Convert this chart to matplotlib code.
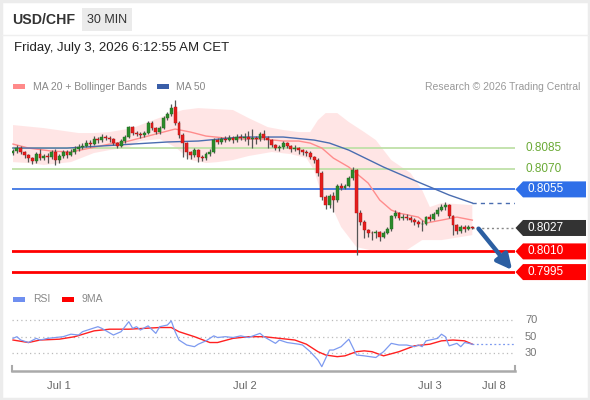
import matplotlib
matplotlib.use("Agg")
import matplotlib.pyplot as plt
from matplotlib.patches import Polygon, Rectangle
import numpy as np

plt.rcParams['font.family'] = ['Liberation Sans', 'DejaVu Sans']

# ---------------- data ----------------
opens = [.80814, .80828, .80850, .80821, .80799, .80777, .80756, .80806, .80777, .80792,
         .80785, .80821, .80763, .80792, .80821, .80799, .80821, .80843, .80857, .80865,
         .80886, .80879, .80915, .80908, .80930, .80923, .80915, .80886, .80865, .80901,
         .80930, .81002, .80959, .80952, .80944, .80959, .81032, .80995, .80966, .80995,
         .81068, .81097, .81148, .81032, .80944, .80886, .80821, .80799, .80835, .80785,
         .80777, .80806, .80821, .80908, .80894, .80915, .80912, .80923, .80908, .80930,
         .80923, .80930, .80915, .80923, .80915, .80952, .80923, .80908, .80872, .80850,
         .80857, .80886, .80865, .80843, .80850, .80835, .80821, .80814, .80785, .80763,
         .80668, .80494, .80436, .80502, .80473, .80574, .80560, .80574, .80632, .80690,
         .80378, .80313, .80255, .80233, .80230, .80240, .80204, .80233, .80262, .80356,
         .80378, .80342, .80349, .80346, .80327, .80313, .80298, .80300, .80349, .80335,
         .80371, .80400, .80422, .80436, .80356, .80291, .80247, .80276, .80262, .80276]
closes = [.80828, .80850, .80821, .80799, .80777, .80756, .80806, .80777, .80792, .80785,
          .80821, .80763, .80792, .80821, .80799, .80821, .80843, .80857, .80865, .80886,
          .80879, .80915, .80908, .80930, .80923, .80915, .80886, .80865, .80901, .80930,
          .81002, .80959, .80952, .80944, .80959, .81032, .80995, .80966, .80995, .81068,
          .81097, .81140, .81032, .80944, .80886, .80821, .80799, .80835, .80785, .80777,
          .80806, .80821, .80908, .80894, .80915, .80912, .80923, .80908, .80930, .80923,
          .80930, .80915, .80923, .80915, .80952, .80923, .80908, .80872, .80850, .80857,
          .80886, .80865, .80843, .80850, .80835, .80821, .80814, .80785, .80763, .80668,
          .80494, .80436, .80502, .80473, .80574, .80560, .80574, .80632, .80690, .80378,
          .80313, .80255, .80233, .80230, .80240, .80204, .80233, .80262, .80356, .80378,
          .80342, .80349, .80346, .80327, .80313, .80298, .80300, .80349, .80335, .80371,
          .80400, .80422, .80436, .80356, .80291, .80247, .80276, .80262, .80276, .80270]
highs = [.80845, .80870, .80862, .80830, .80805, .80785, .80820, .80840, .80810, .80812,
         .80835, .80840, .80805, .80835, .80838, .80840, .80862, .80880, .80885, .80910,
         .80905, .80935, .80930, .80950, .80945, .80940, .80925, .80895, .80915, .80945,
         .81010, .81012, .80975, .80965, .80975, .81045, .81045, .81005, .81010, .81080,
         .81115, .81170, .81199, .81045, .80960, .80895, .80830, .80850, .80845, .80800,
         .80820, .80840, .80920, .80925, .80930, .80935, .80945, .80935, .80950, .80950,
         .80960, .80975, .80990, .80940, .80970, .80980, .80935, .80915, .80880, .80875,
         .80900, .80895, .80875, .80870, .80860, .80845, .80835, .80825, .80795, .80775,
         .80680, .80510, .80520, .80530, .80590, .80600, .80590, .80645, .80710, .80700,
         .80400, .80330, .80265, .80250, .80255, .80250, .80245, .80275, .80365, .80400,
         .80385, .80370, .80370, .80360, .80340, .80330, .80325, .80360, .80370, .80385,
         .80420, .80445, .80460, .80445, .80365, .80300, .80290, .80290, .80290, .80285]
lows = [.80800, .80815, .80805, .80780, .80750, .80735, .80745, .80765, .80760, .80740,
        .80770, .80725, .80745, .80780, .80780, .80790, .80810, .80830, .80840, .80855,
        .80860, .80870, .80890, .80895, .80905, .80895, .80870, .80850, .80855, .80890,
        .80920, .80945, .80935, .80925, .80930, .80950, .80980, .80950, .80955, .80985,
        .81050, .81085, .81020, .80920, .80785, .80770, .80770, .80785, .80750, .80755,
        .80765, .80795, .80815, .80880, .80880, .80895, .80900, .80890, .80895, .80905,
        .80900, .80870, .80850, .80880, .80900, .80910, .80850, .80855, .80835, .80830,
        .80845, .80850, .80820, .80830, .80810, .80800, .80790, .80770, .80740, .80650,
        .80470, .80410, .80415, .80385, .80460, .80545, .80550, .80565, .80620, .80073,
        .80290, .80200, .80205, .80185, .80200, .80178, .80195, .80225, .80250, .80345,
        .80325, .80330, .80330, .80310, .80295, .80280, .80250, .80290, .80320, .80325,
        .80360, .80390, .80400, .80340, .80220, .80225, .80235, .80240, .80255, .80260]

ma20_idx = [0, 4, 10, 15, 20, 25, 29, 34, 38, 42, 46, 50, 55, 60, 65, 70, 74, 77, 80, 83,
            87, 92, 95, 98, 100, 105, 107, 111, 115, 119]
ma20_val = [.80879, .80850, .80828, .80821, .80850, .80879, .80894, .80930, .80959, .80988,
            .80966, .80937, .80923, .80915, .80915, .80901, .80901, .80886, .80850, .80777,
            .80712, .80596, .80473, .80400, .80378, .80349, .80306, .80327, .80349, .80327]

ma50_idx = [0, 14, 23, 31, 40, 48, 59, 70, 78, 82, 87, 96, 105, 113, 119]
ma50_val = [.80850, .80850, .80865, .80879, .80894, .80901, .80930, .80930, .80908, .80886,
            .80835, .80712, .80603, .80509, .80451]

bb_up_idx = [0, 8, 17, 21, 25, 31, 35, 40, 44, 48, 57, 61, 66, 70, 74, 77, 79, 81, 84, 87,
             91, 94, 98, 103, 106, 108, 111, 119]
bb_up_val = [.81017, .80995, .80959, .80959, .80966, .80995, .81039, .81090, .81126, .81140,
             .81126, .81068, .81002, .80981, .80966, .80966, .81053, .81104, .81104, .81039,
             .80966, .80908, .80763, .80668, .80545, .80422, .80451, .80436]
bb_lo_idx = [0, 4, 8, 15, 21, 25, 30, 33, 38, 42, 46, 50, 53, 57, 61, 67, 72, 76, 78, 80,
             83, 85, 89, 96, 102, 106, 111, 119]
bb_lo_val = [.80748, .80741, .80727, .80748, .80814, .80835, .80857, .80901, .80915, .80857,
             .80763, .80741, .80748, .80763, .80792, .80821, .80806, .80777, .80690, .80509,
             .80400, .80277, .80131, .80088, .80109, .80182, .80182, .80218]

rsi_idx = [0, 1, 2, 4, 6, 7, 9, 11, 13, 15, 17, 18, 20, 22, 23, 26, 28, 30, 31, 32, 33, 35,
           37, 38, 40, 41, 42, 43, 45, 47, 48, 50, 52, 53, 55, 57, 59, 61, 64, 65, 68, 69, 71,
           74, 75, 77, 79, 80, 82, 83, 85, 87, 89, 91, 94, 96, 98, 100, 102, 104, 105, 106,
           107, 109, 110, 111, 112, 113, 115, 116, 117, 119]
rsi_val = [48, 50, 46, 43, 48, 46, 48, 49, 50, 53, 52, 56, 59, 62, 60, 52, 56, 68, 60, 62, 58,
           63, 54, 62, 64, 69, 56, 46, 40, 38, 41, 45, 51, 49, 50, 49, 51, 49, 54, 50, 42, 46,
           43, 41, 40, 32, 22, 14, 34, 34, 38, 47, 28, 27, 25, 32, 42, 40, 40, 38, 40, 38, 45,
           47, 48, 53, 50, 39, 42, 38, 43, 41]
ma9_idx = [0, 4, 7, 12, 16, 21, 25, 30, 34, 38, 41, 43, 47, 51, 53, 57, 61, 65, 69, 73, 76,
           79, 81, 84, 86, 89, 91, 93, 96, 100, 104, 108, 111, 114, 117, 119]
ma9_val = [46, 43, 46, 47, 50, 57, 59, 59, 60, 61, 61, 56, 50, 43, 43, 48, 50, 50, 48, 46, 41,
           32, 28, 26, 27, 32, 33, 32, 27, 32, 39, 41, 45, 46, 45, 41]

levels_green = [0.8085, 0.8070]
level_blue = 0.8055
level_last = 0.8027
levels_red = [0.8010, 0.7995]
rsi_grid = [30, 50, 70]
tick_pos = [12, 60, 108, 124.5]
tick_lab = ['Jul 1', 'Jul 2', 'Jul 3', 'Jul 8']

# ---------------- figure ----------------
W, H = 590, 400
fig = plt.figure(figsize=(W / 100, H / 100), dpi=100)
fig.patch.set_facecolor('white')

def axpos(l, t, r, b):
    return [l / W, 1 - b / H, (r - l) / W, (b - t) / H]

ax = fig.add_axes(axpos(12, 95, 515, 282))
ax.set_facecolor('none')
ax.set_xlim(-0.26, 130.05)
ax.set_ylim(0.79878, 0.81235)
ax.axis('off')

n = len(closes)
x = np.arange(n)
o = np.array(opens); c = np.array(closes)
hi = np.array(highs); lo = np.array(lows)

ax.fill(np.concatenate([bb_up_idx, bb_lo_idx[::-1]]),
        np.concatenate([bb_up_val, bb_lo_val[::-1]]),
        color='#ffe3e3', alpha=0.9, lw=0, zorder=1)

for lv in levels_green:
    ax.axhline(lv, color='#bfe0a8', lw=1.3, zorder=2)
ax.axhline(level_blue, color='#3f76e4', lw=1.3, zorder=2)
for lv in levels_red:
    ax.axhline(lv, color='#ff0000', lw=2.0, zorder=2)

ax.plot(ma20_idx, ma20_val, color='#ff8c8c', lw=1.0, zorder=3)
ax.plot(ma50_idx, ma50_val, color='#4a6db0', lw=1.0, zorder=3)
ax.plot([ma50_idx[-1], 130.05], [ma50_val[-1], ma50_val[-1]], color='#4a6db0',
        lw=1.0, ls=(0, (3, 3)), zorder=3)
ax.plot([n - 1, 130.05], [level_last, level_last], color='#888888', lw=1.0,
        ls=(0, (1.5, 2)), zorder=3)

ax.vlines(x, lo, hi, color='#555555', lw=0.9, zorder=4)
up = c >= o
body_b = np.minimum(o, c)
body_h = np.maximum(np.abs(c - o), 0.00003)
ax.bar(x[up], body_h[up], bottom=body_b[up], width=0.75, color='#2b8a2b',
       edgecolor='#1f6a1f', lw=0.3, zorder=5)
ax.bar(x[~up], body_h[~up], bottom=body_b[~up], width=0.75, color='#e41e1e',
       edgecolor='#b01010', lw=0.3, zorder=5)

ax.annotate('', xy=(129.3, levels_red[1] + 0.00015), xytext=(n + 0.6, closes[-1] - 0.00005),
            arrowprops=dict(arrowstyle='-|>,head_width=0.45,head_length=0.9', lw=3.2,
                            color='#2c5fa2', shrinkA=0, shrinkB=0),
            annotation_clip=False, zorder=6)

# RSI panel
ax2 = fig.add_axes(axpos(12, 305, 515, 371))
ax2.set_facecolor('none')
ax2.set_xlim(-0.26, 130.05)
ax2.set_ylim(8.8, 88.05)
for g in rsi_grid:
    ax2.axhline(g, color='#bbbbbb', lw=0.9, ls=(0, (1, 2.5)))
ax2.plot(ma9_idx, ma9_val, color='#ff2020', lw=1.0)
ax2.plot(rsi_idx, rsi_val, color='#7d9af0', lw=0.9)
ax2.plot([rsi_idx[-1], 130.05], [rsi_val[-1], rsi_val[-1]], color='#7d9af0', lw=0.9,
         ls=(0, (1.5, 2)))
for s in ['top', 'left', 'right']:
    ax2.spines[s].set_visible(False)
ax2.spines['bottom'].set_color('#aaaaaa')
ax2.spines['bottom'].set_linewidth(1.8)
ax2.set_yticks([])
ax2.set_xticks(tick_pos)
ax2.set_xticklabels(tick_lab, fontsize=8, color='#666666')
ax2.tick_params(axis='x', length=0, pad=7)
for xe in [0, 1]:
    ax2.plot([xe, xe], [0, 0.07], transform=ax2.transAxes, color='#aaaaaa', lw=1.5,
             clip_on=False)

# overlay in pixel coordinates
ov = fig.add_axes([0, 0, 1, 1], zorder=10)
ov.set_xlim(0, W); ov.set_ylim(H, 0); ov.axis('off'); ov.set_facecolor('none')

ov.add_patch(Rectangle((1, 1), W - 2, H - 2, fill=False, ec='#ececec', lw=2.5))
ov.plot([2, W - 2], [34.5, 34.5], color='#efefef', lw=1)

ov.text(12, 20, 'USD/CHF', fontsize=10.2, fontweight='bold', color='#333333', va='center')
ov.add_patch(Rectangle((82, 7.5), 50, 23.5, color='#ebebeb', lw=0))
ov.text(107, 20, '30 MIN', fontsize=9, color='#333333', va='center', ha='center')
ov.text(14, 48, 'Friday, July 3, 2026 6:12:55 AM CET', fontsize=9.5, color='#222222',
        va='center')

ov.add_patch(Rectangle((13, 84), 12, 5, color='#ff8a8a', lw=0))
ov.text(33, 86.5, 'MA 20 + Bollinger Bands', fontsize=7.5, color='#888888', va='center')
ov.add_patch(Rectangle((157, 84), 12, 5, color='#3a5ea8', lw=0))
ov.text(176, 86.5, 'MA 50', fontsize=7.5, color='#888888', va='center')
ov.text(580, 86.5, 'Research \u00a9 2026 Trading Central', fontsize=7.5, color='#999999',
        va='center', ha='right')

ov.add_patch(Rectangle((13, 297), 12, 5, color='#6f8ff0', lw=0))
ov.text(33, 299.5, 'RSI', fontsize=7.5, color='#888888', va='center')
ov.add_patch(Rectangle((62, 297), 12, 5, color='#ff0000', lw=0))
ov.text(82, 299.5, '9MA', fontsize=7.5, color='#888888', va='center')

fig.canvas.draw()

def py_of(axis, val):
    return H - axis.transData.transform((0, val))[1]

for lv in levels_green:
    yy = py_of(ax, lv)
    ov.text(525, yy, f'{lv:.4f}', fontsize=8.5, color='#6aaa35', va='center')

def tag(val, color):
    yy = py_of(ax, val)
    ov.add_patch(Polygon([(515.5, yy), (523, yy - 8), (586, yy - 8), (586, yy + 8),
                          (523, yy + 8)], closed=True, color=color, lw=0))
    ov.text(527, yy, f'{val:.4f}', fontsize=8.5, color='white', va='center')

tag(level_blue, '#2f6fe8')
tag(level_last, '#333333')
for lv in levels_red:
    tag(lv, '#ff0000')

for g in rsi_grid:
    ov.text(525, py_of(ax2, g), str(g), fontsize=8, color='#777777', va='center')

fig.savefig('out.png', dpi=100, facecolor='white')
